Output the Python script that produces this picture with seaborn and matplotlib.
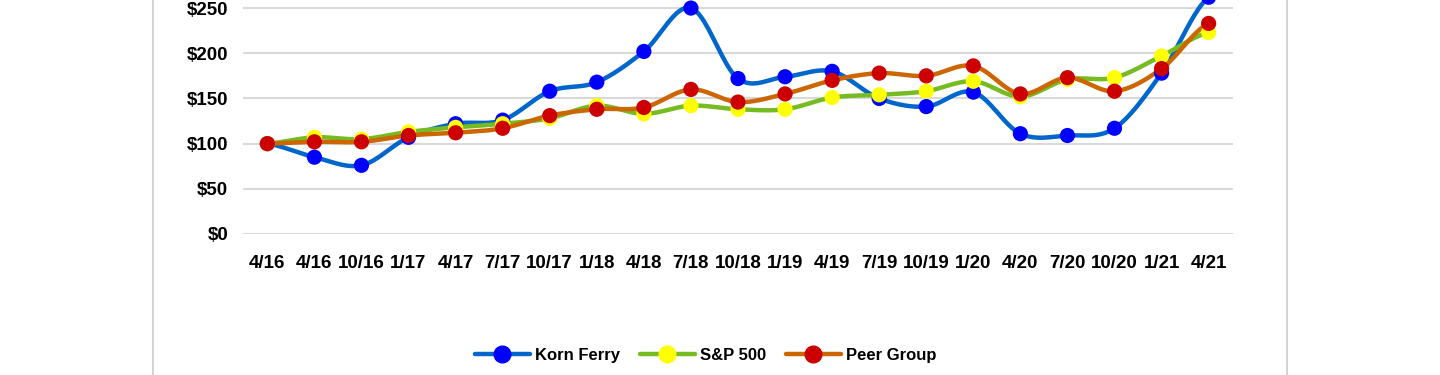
import numpy as np
import pandas as pd
import matplotlib
matplotlib.use("Agg")
import matplotlib.pyplot as plt
from matplotlib.lines import Line2D
import seaborn as sns

quarters = ["4/16", "4/16", "10/16", "1/17", "4/17", "7/17", "10/17", "1/18", "4/18", "7/18", "10/18",
            "1/19", "4/19", "7/19", "10/19", "1/20", "4/20", "7/20", "10/20", "1/21", "4/21"]
korn_ferry = [100, 85, 76, 107, 122, 126, 158, 168, 202, 250, 172,
              174, 180, 150, 141, 157, 111, 109, 117, 178, 262]
sp500 = [100, 107, 105, 113, 118, 122, 128, 142, 133, 142, 138,
         138, 151, 154, 158, 169, 152, 171, 173, 197, 223]
peer_group = [100, 102, 102, 109, 112, 117, 131, 138, 140, 160, 146,
              155, 170, 178, 175, 186, 155, 173, 158, 183, 233]
y_ticks = [0, 50, 100, 150, 200, 250]

series = [
    ("Korn Ferry", korn_ferry, "#0066CC", "#0000FF"),
    ("S&P 500", sp500, "#77BB22", "#FFFF00"),
    ("Peer Group", peer_group, "#CC6600", "#CC0000"),
]


def smooth_curve(y, steps=24):
    # Catmull-Rom spline through the points, like Excel's smoothed line
    y = np.asarray(y, dtype=float)
    p = np.concatenate([[y[0]], y, [y[-1]]])
    xs, ys = [], []
    t = np.linspace(0, 1, steps, endpoint=False)
    for i in range(len(y) - 1):
        p0, p1, p2, p3 = p[i], p[i + 1], p[i + 2], p[i + 3]
        seg = 0.5 * ((2 * p1) + (-p0 + p2) * t + (2 * p0 - 5 * p1 + 4 * p2 - p3) * t ** 2
                     + (-p0 + 3 * p1 - 3 * p2 + p3) * t ** 3)
        xs.extend(i + t)
        ys.extend(seg)
    xs.append(len(y) - 1)
    ys.append(y[-1])
    return np.array(xs), np.array(ys)


sns.set_style("white")
plt.rcParams["font.family"] = ["Liberation Sans", "DejaVu Sans"]
plt.rcParams["text.color"] = "black"
plt.rcParams["xtick.color"] = "black"
plt.rcParams["ytick.color"] = "black"

fig = plt.figure(figsize=(14.4, 3.75), dpi=100)
ax = fig.add_axes([0.169, 0.376, 0.687, 0.723])

x_idx = np.arange(len(quarters))
for name, vals, line_c, mark_c in series:
    sx, sy = smooth_curve(vals)
    sns.lineplot(x=sx, y=sy, ax=ax, color=line_c, linewidth=3.2, sort=False, zorder=3)
    sns.scatterplot(x=x_idx, y=vals, ax=ax, color=mark_c, s=120, edgecolor="none", zorder=4)

ax.set_xlim(-0.51, len(quarters) - 0.49)
ax.set_ylim(0, 300)
ax.set_yticks(y_ticks)
ax.set_yticklabels([f"${v}" for v in y_ticks], fontsize=13.5, fontweight="bold")
ax.set_xticks(x_idx)
ax.set_xticklabels(quarters, fontsize=13.5, fontweight="bold")
ax.tick_params(axis="y", length=0, pad=11)
ax.tick_params(axis="x", length=0, pad=15)
ax.grid(axis="y", color="#D9D9D9", linewidth=1.5)
ax.set_axisbelow(True)
for s in ax.spines.values():
    s.set_visible(False)

handles = [Line2D([0], [0], color=lc, linewidth=3.2, marker="o", markersize=12,
                  markerfacecolor=mc, markeredgecolor=mc) for _, _, lc, mc in series]
fig.legend(handles, [s[0] for s in series], loc="center", bbox_to_anchor=(0.49, 0.053),
           ncol=3, frameon=False, handlelength=3.3, handletextpad=0.3, columnspacing=1.2,
           prop={"size": 12, "weight": "bold"})

for xf in (153 / 1440, 1287 / 1440):
    fig.add_artist(Line2D([xf, xf], [0, 1], color="#D3D3D3", linewidth=1.5, transform=fig.transFigure))

fig.savefig("out.png", dpi=100)
plt.close(fig)
